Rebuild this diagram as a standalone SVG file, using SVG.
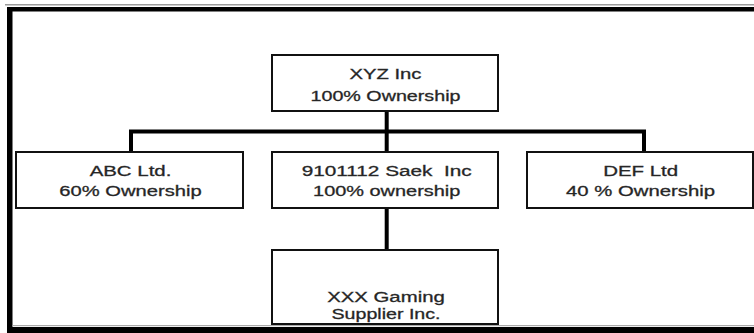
<svg xmlns="http://www.w3.org/2000/svg" width="754" height="333" viewBox="0 0 754 333">
<style>
.box{fill:#fff;stroke:#111;stroke-width:2}
.t{font-family:"Liberation Sans",Arial,sans-serif;font-size:14px;fill:#222;stroke:#333;stroke-width:0.3;text-anchor:middle}
.c{fill:none;stroke:#000;stroke-width:4}
</style>
<rect width="754" height="333" fill="#fff"/>
<g id="frame">
<rect x="5" y="4" width="749" height="1.5" fill="#9a9a9a"/>
<rect x="7" y="7" width="747" height="4.5" fill="#000"/>
<rect x="7" y="7" width="5.5" height="326" fill="#000"/>
<rect x="12.5" y="325" width="741.5" height="1.2" fill="#aaa"/>
<rect x="7" y="327" width="747" height="6" fill="#000"/>
</g>
<g id="connectors">
<path class="c" d="M386.7 111 V250"/>
<path class="c" d="M131 152 V131.5 H644 V152"/>
</g>
<g id="xyz">
<rect class="box" x="272" y="55" width="226" height="56"/>
<text class="t" x="385.5" y="79" textLength="72" lengthAdjust="spacingAndGlyphs">XYZ Inc</text>
<text class="t" x="385.5" y="101" textLength="150" lengthAdjust="spacingAndGlyphs">100% Ownership</text>
</g>
<g id="abc">
<rect class="box" x="16" y="152" width="227" height="56"/>
<text class="t" x="130.5" y="176" textLength="81.7" lengthAdjust="spacingAndGlyphs">ABC Ltd.</text>
<text class="t" x="130.5" y="195.5" textLength="142.3" lengthAdjust="spacingAndGlyphs">60% Ownership</text>
</g>
<g id="saek">
<rect class="box" x="272" y="152" width="226" height="56"/>
<text class="t" x="386.7" y="176" textLength="170" lengthAdjust="spacingAndGlyphs" xml:space="preserve">9101112 Saek  Inc</text>
<text class="t" x="386.7" y="195.5" textLength="147.3" lengthAdjust="spacingAndGlyphs">100% ownership</text>
</g>
<g id="def">
<rect class="box" x="527" y="152" width="226" height="56"/>
<text class="t" x="640.7" y="176" textLength="75" lengthAdjust="spacingAndGlyphs">DEF Ltd</text>
<text class="t" x="640.5" y="195.5" textLength="149" lengthAdjust="spacingAndGlyphs">40 % Ownership</text>
</g>
<g id="xxx">
<rect class="box" x="272" y="250" width="226" height="74"/>
<text class="t" x="386" y="301.5" textLength="117.7" lengthAdjust="spacingAndGlyphs">XXX Gaming</text>
<text class="t" x="386" y="318.5" textLength="109" lengthAdjust="spacingAndGlyphs">Supplier Inc.</text>
</g>
</svg>
